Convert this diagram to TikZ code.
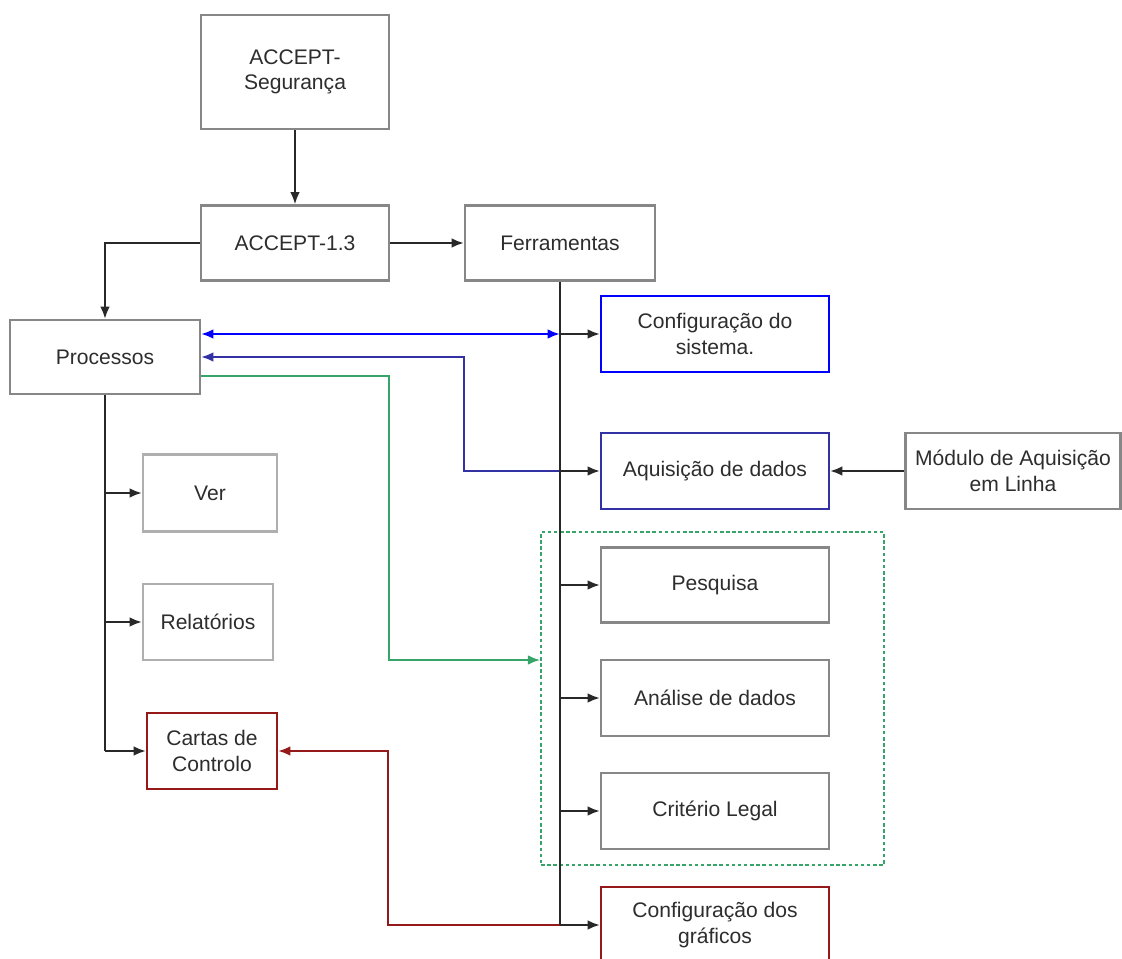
\documentclass[tikz,border=0pt]{standalone}
\usepackage{fontspec}
\setmainfont{Liberation Sans}
\usetikzlibrary{calc,positioning,arrows.meta}
\definecolor{boxgray}{RGB}{135,135,135}
\definecolor{lightgray}{RGB}{175,175,175}
\definecolor{txtgray}{RGB}{45,45,45}
\definecolor{linegray}{RGB}{40,40,40}
\definecolor{navyline}{RGB}{50,50,165}
\definecolor{greenline}{RGB}{55,165,105}
\definecolor{redline}{RGB}{150,25,25}
\tikzset{
>={Latex[length=7pt,width=5.5pt]},
  boks/.style={
    rectangle,
    draw=boxgray, line width=1.2pt,
    text=txtgray,
    font=\fontsize{12}{14.5}\selectfont,
    align=center,
    inner sep=2pt},
  boksblue/.style={boks, draw=blue},
  boksnavy/.style={boks, draw=navyline},
  boksred/.style={boks, draw=redline},
  bokslight/.style={boks, draw=lightgray},
  line/.style={draw=linegray, line width=1.3pt},
  grupo/.style={draw=greenline, line width=0.9pt, dash pattern=on 2pt off 1.5pt},
}

\begin{document}
\begin{tikzpicture}[x=0.02cm,y=-0.02cm]
    \useasboundingbox (0,0) rectangle (1122,959);

    % upper part
    \node [boks, minimum width=3.76cm, minimum height=2.28cm](seg) at (295,72){ACCEPT-\\Segurança};
    \node [boks, minimum width=3.76cm, minimum height=1.5cm](accept) at (295,243){ACCEPT-1.3};
    \node [boks, minimum width=3.8cm, minimum height=1.5cm](ferr) at (560,243){Ferramentas};
    \node [boks, minimum width=3.8cm, minimum height=1.48cm](proc) at (105,357){Processos};

    % left column
    \node [bokslight, minimum width=2.68cm, minimum height=1.54cm](ver) at (210,493){Ver};
    \node [bokslight, minimum width=2.6cm, minimum height=1.52cm](relat) at (208,622){Relatórios};
    \node [boksred, minimum width=2.6cm, minimum height=1.52cm](cartas) at (212,751){Cartas de\\Controlo};

    % right column
    \node [grupo, minimum width=6.86cm, minimum height=6.66cm](ferrgrupo) at (712.5,698.5){};
    \node [boksblue, minimum width=4.56cm, minimum height=1.52cm](cfgsis) at (715,334){Configuração do\\sistema.};
    \node [boksnavy, minimum width=4.56cm, minimum height=1.52cm](aquis) at (715,471){Aquisição de dados};
    \node [boks, minimum width=4.3cm, minimum height=1.52cm](modulo) at (1013,471){Módulo de Aquisição\\em Linha};
    \node [boks, minimum width=4.56cm, minimum height=1.5cm](pesq) at (715,585){Pesquisa};
    \node [boks, minimum width=4.56cm, minimum height=1.52cm](anal) at (715,698){Análise de dados};
    \node [boks, minimum width=4.56cm, minimum height=1.52cm](crit) at (715,811){Critério Legal};
    \node [boksred, minimum width=4.56cm, minimum height=1.52cm](cfggraf) at (715,925){Configuração dos\\gráficos};

    \coordinate (navyturn) at (464,357);
    \coordinate (greenturn) at (389,376);
    \coordinate (greenend) at (389,660);
    \coordinate (redturn) at (388,751);

    % coloured links
    \draw[<->, blue, line width=1.3pt] (proc.east |- cfgsis.west) -- (ferr.south |- cfgsis.west);
    \draw[->, navyline, line width=1.3pt] (ferr.south |- aquis.west) -| (navyturn) -- (proc.east);
    \draw[->, greenline, line width=1.2pt] (proc.east |- greenturn) -| (greenend) -- (ferrgrupo.west |- greenend);
    \draw[->, redline, line width=1.3pt] (ferr.south |- cfggraf.west) -| (redturn) -- (cartas.east);

    % black links
    \draw[->, line] (seg.south) -- (accept.north);
    \draw[->, line] (accept.east) -- (ferr.west);
    \draw[->, line] (accept.west) -| (proc.north);
    \draw[line] (ferr.south) -- (ferr.south |- cfggraf.west);
    \draw[line] (proc.south) -- (proc.south |- cartas.west);
    \foreach \b in {cfgsis,aquis,pesq,anal,crit,cfggraf}
        \draw[->, line] (ferr.south |- \b.west) -- (\b.west);
    \foreach \b in {ver,relat,cartas}
        \draw[->, line] (proc.south |- \b.west) -- (\b.west);
    \draw[->, line] (modulo.west) -- (aquis.east);

\end{tikzpicture}
\end{document}
